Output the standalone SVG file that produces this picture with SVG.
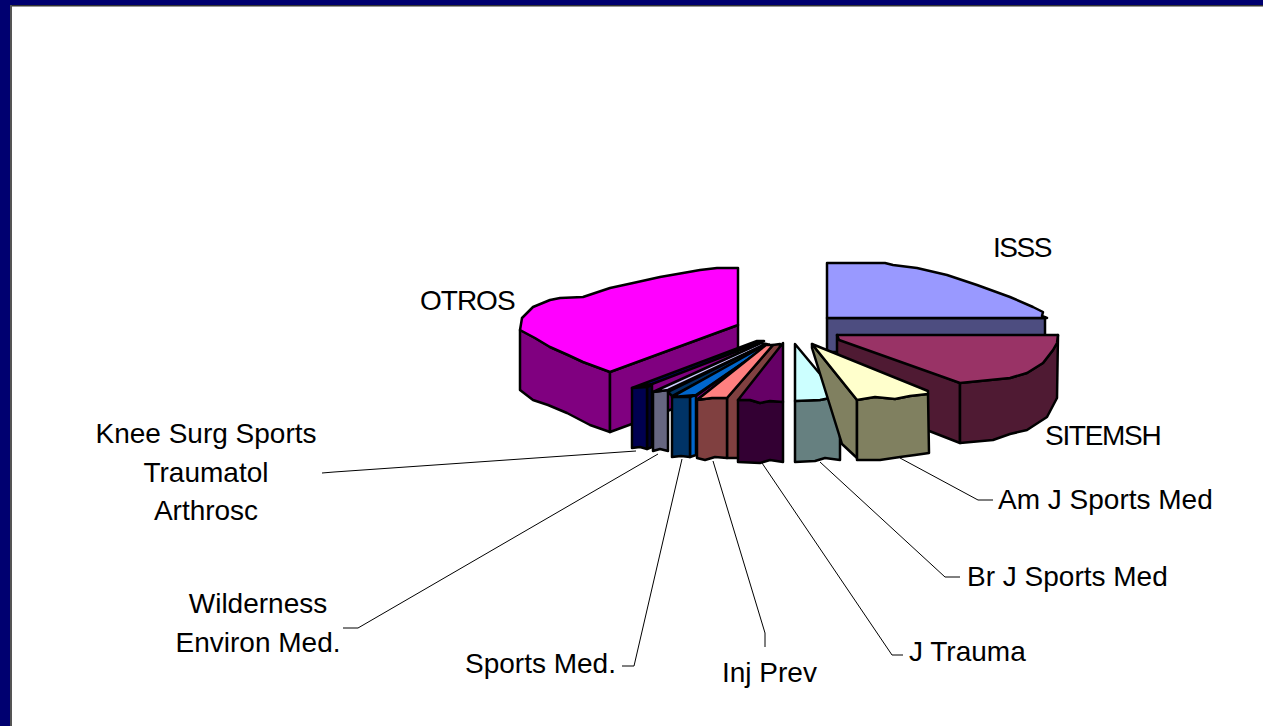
<svg xmlns="http://www.w3.org/2000/svg" width="1263" height="726" viewBox="0 0 1263 726">
<style>
.s{stroke:#000;stroke-width:2.5;stroke-linejoin:round}
.ld{fill:none;stroke:#000;stroke-width:1}
.t{font-family:"Liberation Sans",Arial,sans-serif;font-size:28px;fill:#000}
.m{text-anchor:middle}
</style>
<rect x="0" y="0" width="1263" height="726" fill="#fff"/>
<g id="frame">
<rect x="0" y="0" width="1263" height="5" fill="#000070"/>
<rect x="0" y="0" width="10" height="726" fill="#000070"/>
<rect x="10" y="5" width="1253" height="1.5" fill="#333"/>
<rect x="10" y="5" width="2" height="721" fill="#555"/>
</g>
<g id="ISSS">
<rect class="s" x="827" y="318" width="218" height="34" fill="#4D4D80"/>
<path class="s" fill="#9999FF" d="M827,263 L885,263 L893,265 L917,268 L947,275 L977,285 L1010,297 L1033,307 L1043,312 L1042,316 L1047,318 L827,318 Z"/>
</g>
<g id="SITEMSH">
<path class="s" fill="#4F1A33" d="M837,335 L960,383 L960,443 L837,395 Z"/>
<path class="s" fill="#4F1A33" d="M960,383 L1010,378 L1027,373 L1043,363 L1053,350 L1057,343 L1058,335 L1057,398 L1047,417 L1027,430 L1010,434 L993,440 L960,443 Z"/>
<path class="s" fill="#993366" d="M837,335 L1058,335 L1057,343 L1053,350 L1043,363 L1027,373 L1010,378 L960,383 L839,340 Z"/>
</g>
<g id="OTROS">
<path class="s" fill="#800080" d="M520,330 L535,338 L550,347 L568,355 L583,362 L610,372 L610,432 L590,425 L567,413 L548,405 L533,400 L520,390 Z"/>
<path class="s" fill="#800080" d="M610,372 L738,325 L738,385 L610,432 Z"/>
<path class="s" fill="#FF00FF" d="M738,268 L717,268 L700,270 L683,273 L660,277 L633,283 L610,288 L583,297 L560,298 L550,300 L533,307 L522,318 L520,330 L535,338 L550,347 L568,355 L583,362 L610,372 L738,325 Z"/>
</g>
<g id="KneeSurg">
<path class="s" fill="#000030" d="M647,387 L652,385 L652,447 L647,449 Z"/>
<path class="s" fill="#000050" d="M632,388 L647,387 L647,449 L640,447 L632,448 Z"/>
<path class="s" fill="#000080" d="M632,388 L652,384 L764,341 L757,341 Z"/>
</g>
<g id="Wilderness">
<path class="s" fill="#666680" d="M653,392 L668,390 L668,451 L660,449 L653,451 Z"/>
<path class="s" fill="#CCCCFF" d="M653,392 L668,390 L766,344 L761,343 Z"/>
</g>
<g id="thin1">
<path class="s" fill="#003366" d="M668,392 L672,396 L768,345 L766,344 Z"/>
</g>
<g id="SportsMed">
<path class="s" fill="#0066CC" d="M690,397 L696,395 L696,455 L690,457 Z"/>
<path class="s" fill="#003366" d="M672,397 L690,397 L690,457 L681,456 L672,457 Z"/>
<path class="s" fill="#0066CC" d="M672,397 L696,395 L769,345 L767,344 Z"/>
</g>
<g id="thin2">
<path class="s" fill="none" d="M696,396 L770,344"/>
<path class="s" fill="none" d="M698,399 L772,345"/>
</g>
<g id="InjPrev">
<path class="s" fill="#804040" d="M727,398 L773,345 L780,344 L780,420 L738,458 L727,458 Z"/>
<path class="s" fill="#804040" d="M697,400 L712,398 L727,398 L727,458 L715,457 L705,460 L697,458 Z"/>
<path class="s" fill="#FF8080" d="M697,400 L712,398 L727,398 L773,345 L766,345 Z"/>
</g>
<g id="JTrauma">
<path class="s" fill="#330033" d="M738,400 L750,400 L760,403 L770,401 L783,402 L783,462 L770,460 L760,463 L738,462 Z"/>
<path class="s" fill="#660066" d="M738,400 L750,400 L760,403 L770,401 L783,402 L783,343 Z"/>
</g>
<g id="BrJSportsMed">
<path class="s" fill="#668080" d="M795,401 L820,400 L835,397 L840,398 L840,460 L825,458 L815,461 L795,462 Z"/>
<path class="s" fill="#CCFFFF" d="M795,344 L840,398 L835,397 L820,400 L795,401 Z"/>
</g>
<g id="AmJSportsMed">
<path class="s" fill="#808060" d="M812,344 L857,400 L857,458 L842,444 L812,348 Z"/>
<path class="s" fill="#808060" d="M857,400 L875,397 L895,399 L910,396 L928,394 L929,453 L915,455 L900,457 L880,460 L857,460 Z"/>
<path class="s" fill="#FFFFCC" d="M812,344 L928,391 L928,394 L910,396 L895,399 L875,397 L857,400 Z"/>
</g>
<g id="connectors">
<path class="ld" d="M322,473 L334,472 L636,451"/>
<path class="ld" d="M343,628 L358,628 L658,454"/>
<path class="ld" d="M622,666 L634,666 L682,459"/>
<path class="ld" d="M713,461 L765,633 L765,647"/>
<path class="ld" d="M762,463 L892,655 L903,655"/>
<path class="ld" d="M820,462 L945,577 L960,577"/>
<path class="ld" d="M900,458 L978,500 L993,500"/>
</g>
<g id="labels">
<text class="t" x="993" y="257" letter-spacing="-1.5">ISSS</text>
<text class="t" x="420" y="310" letter-spacing="-1">OTROS</text>
<text class="t" x="1045" y="445" letter-spacing="-1.3">SITEMSH</text>
<text class="t" x="998" y="509">Am J Sports Med</text>
<text class="t" x="967" y="586">Br J Sports Med</text>
<text class="t" x="909" y="661">J Trauma</text>
<text class="t" x="722" y="682">Inj Prev</text>
<text class="t" x="465" y="673">Sports Med.</text>
<text class="t m" x="206" y="443">Knee Surg Sports</text>
<text class="t m" x="206" y="482">Traumatol</text>
<text class="t m" x="206" y="520">Arthrosc</text>
<text class="t m" x="258" y="613">Wilderness</text>
<text class="t m" x="258" y="652">Environ Med.</text>
</g>
</svg>
